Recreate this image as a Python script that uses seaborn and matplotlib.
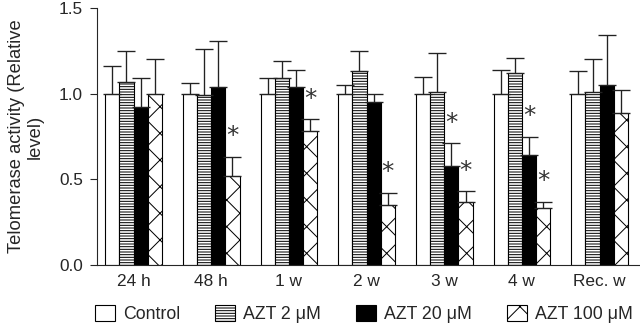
import numpy as np
import pandas as pd
import matplotlib
matplotlib.use("Agg")
import matplotlib.pyplot as plt
import seaborn as sns

groups = ['24 h', '48 h', '1 w', '2 w', '3 w', '4 w', 'Rec. w']
series = ['Control', 'AZT 2 \u03bcM', 'AZT 20 \u03bcM', 'AZT 100 \u03bcM']

control = [1.00, 1.00, 1.00, 1.00, 1.00, 1.00, 1.00]
control_err = [0.16, 0.06, 0.09, 0.05, 0.10, 0.14, 0.13]
azt2 = [1.07, 0.99, 1.09, 1.13, 1.01, 1.12, 1.01]
azt2_err = [0.18, 0.27, 0.10, 0.12, 0.23, 0.09, 0.19]
azt20 = [0.92, 1.04, 1.04, 0.95, 0.58, 0.64, 1.05]
azt20_err = [0.17, 0.27, 0.10, 0.05, 0.13, 0.11, 0.29]
azt100 = [1.00, 0.52, 0.78, 0.35, 0.37, 0.33, 0.89]
azt100_err = [0.20, 0.11, 0.07, 0.07, 0.06, 0.04, 0.13]

# significant bars (group, series)
stars = [('48 h', 3), ('1 w', 3), ('2 w', 3), ('3 w', 2), ('3 w', 3), ('4 w', 2), ('4 w', 3)]

means = [control, azt2, azt20, azt100]
errs = [control_err, azt2_err, azt20_err, azt100_err]
fills = ['white', 'white', 'black', 'white']
hatches = ['', '-----', '', 'x']

rows = []
for s, vals in zip(series, means):
    for g, v in zip(groups, vals):
        rows.append({'group': g, 'series': s, 'value': v})
df = pd.DataFrame(rows)

sns.set_style("ticks")
plt.rcParams['font.family'] = ['Liberation Sans', 'DejaVu Sans']
plt.rcParams['hatch.linewidth'] = 0.9
plt.rcParams['hatch.color'] = 'black'

fig = plt.figure(figsize=(8, 4.075), dpi=80)
ax = fig.add_axes([97 / 640, 61 / 326, 543 / 640, 257 / 326])

sns.barplot(data=df, x='group', y='value', hue='series', order=groups, hue_order=series,
            palette=fills, width=0.73, errorbar=None, edgecolor='black', linewidth=1.0,
            legend=False, ax=ax)

bar_sets = list(ax.containers)
for i, cont in enumerate(bar_sets):
    for j, bar in enumerate(cont):
        bar.set_facecolor(fills[i])
        bar.set_hatch(hatches[i])
        x = bar.get_x() + bar.get_width() / 2
        ax.errorbar(x, means[i][j], yerr=[[0], [errs[i][j]]], fmt='none',
                    ecolor='#222222', elinewidth=1.2, capsize=8, capthick=1.2, zorder=1)

for g, k in stars:
    j = groups.index(g)
    bar = bar_sets[k][j]
    x = bar.get_x() + bar.get_width() / 2
    y = means[k][j] + errs[k][j] + 0.135
    ax.text(x, y, '*', ha='center', va='center_baseline', fontsize=22, color='#333333',
            family=['DejaVu Sans'])

ax.set_xlim(-0.47, 6.52)
ax.set_ylim(0, 1.5)
ax.set_yticks([0.0, 0.5, 1.0, 1.5])
ax.set_yticklabels(['0.0', '0.5', '1.0', '1.5'])
ax.tick_params(axis='y', length=6, width=1, labelsize=15.5, pad=6.5)
ax.tick_params(axis='x', length=0, labelsize=15.5, pad=8)
ax.set_xlabel('')
ax.set_ylabel('Telomerase activity (Relative\nlevel)', fontsize=16.5, linespacing=1.1)
ax.yaxis.set_label_coords(-0.098, 0.5)
sns.despine(ax=ax)
for sp in ['left', 'bottom']:
    ax.spines[sp].set_linewidth(1.0)

handles = [matplotlib.patches.Patch(facecolor=fills[i], edgecolor='black', hatch=hatches[i], linewidth=1.0)
           for i in range(4)]
fig.legend(handles, series, loc='center left', bbox_to_anchor=(95 / 640, 12 / 326), ncol=4,
           frameon=False, fontsize=16, handlelength=1.12, handleheight=1.05, handletextpad=0.45,
           columnspacing=1.97, borderpad=0, borderaxespad=0)

fig.savefig('out.png', dpi=80)
